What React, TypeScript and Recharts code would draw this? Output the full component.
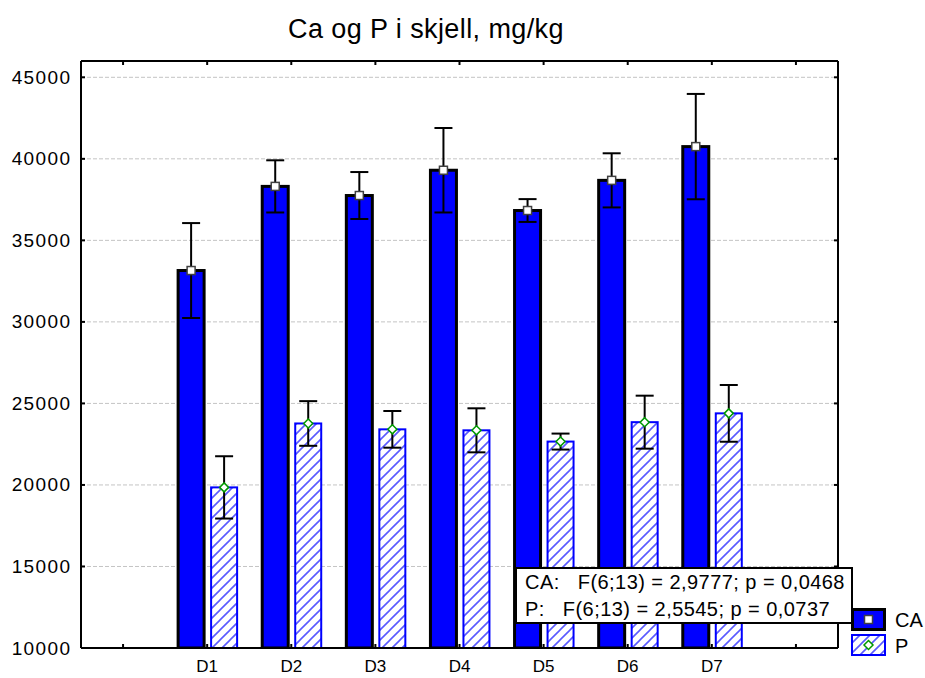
import React from "react";
import {
  BarChart,
  Bar,
  XAxis,
  YAxis,
  CartesianGrid,
  ErrorBar,
  Legend,
} from "recharts";

// group means and error half-widths, blank slots pad both ends of the axis
const categories = ["", "D1", "D2", "D3", "D4", "D5", "D6", "D7", ""];
const caMean = [null, 33150, 38310, 37750, 39300, 36830, 38680, 40750, null];
const caErr = [null, 2910, 1600, 1440, 2590, 700, 1660, 3230, null];
const pMean = [null, 19850, 23770, 23410, 23350, 22660, 23850, 24390, null];
const pErr = [null, 1910, 1370, 1125, 1350, 490, 1625, 1740, null];

const yTicks = [10000, 15000, 20000, 25000, 30000, 35000, 40000, 45000];
const seriesNames = ["CA", "P"];
const statLines = [
  "CA:   F(6;13) = 2,9777; p = 0,0468",
  "P:   F(6;13) = 2,5545; p = 0,0737",
];
const title = "Ca og P i skjell, mg/kg";

const data = categories.map((name, i) => ({
  name,
  ca: caMean[i],
  caErr: caErr[i],
  p: pMean[i],
  pErr: pErr[i],
}));

const FONT = "'Liberation Sans', Arial, sans-serif";
const BLUE = "#0000ff";

const CaShape = (props: any) => {
  if (props.payload?.ca == null) return <g />;
  const { x, y, width, height } = props;
  return (
    <rect x={x} y={y} width={width} height={height} fill={BLUE} stroke="#000" strokeWidth={3} />
  );
};

const PShape = (props: any) => {
  if (props.payload?.p == null) return <g />;
  const { x, y, width, height } = props;
  return (
    <rect x={x} y={y} width={width} height={height} fill="url(#hatch)" stroke={BLUE} strokeWidth={2} />
  );
};

const CaMarker = (props: any) => {
  const { x, y, width, value } = props;
  if (value == null) return null;
  const cx = x + width / 2;
  return <rect x={cx - 4} y={y - 4} width={8} height={8} fill="#fff" stroke="#404040" strokeWidth={1.5} />;
};

const PMarker = (props: any) => {
  const { x, y, width, value } = props;
  if (value == null) return null;
  const cx = x + width / 2;
  return (
    <polygon
      points={`${cx},${y - 4.5} ${cx + 4.5},${y} ${cx},${y + 4.5} ${cx - 4.5},${y}`}
      fill="#fff"
      stroke="#009900"
      strokeWidth={1.5}
    />
  );
};

const YTick = (props: any) => {
  const { x, y, payload } = props;
  return (
    <g>
      <line x1={x + 11} x2={x + 15} y1={y} y2={y} stroke="#000" strokeWidth={2} />
      <text
        x={x + 1.5}
        y={y + 6.5}
        textAnchor="end"
        fontSize={19}
        letterSpacing={1.4}
        fontFamily={FONT}
        fill="#000"
      >
        {payload.value}
      </text>
    </g>
  );
};

const XTick = (props: any) => {
  const { x, y, payload } = props;
  return (
    <g>
      <line x1={x} x2={x} y1={y} y2={y - 4} stroke="#000" strokeWidth={2} />
      <text x={x} y={y + 24} textAnchor="middle" fontSize={17} fontFamily={FONT} fill="#000">
        {payload.value}
      </text>
    </g>
  );
};

const RightTick = (props: any) => (
  <line x1={props.x - 4} x2={props.x} y1={props.y} y2={props.y} stroke="#000" strokeWidth={2} />
);

const TopTick = (props: any) => (
  <line x1={props.x} x2={props.x} y1={props.y} y2={props.y + 4} stroke="#000" strokeWidth={2} />
);

const LegendContent = () => (
  <div style={{ fontFamily: FONT, fontSize: 20 }}>
    {seriesNames.map((name, i) => (
      <div key={name} style={{ display: "flex", alignItems: "center", height: 26 }}>
        <svg width={36} height={24}>
          <defs>
            <pattern id={`lg-hatch-${i}`} patternUnits="userSpaceOnUse" width={10} height={10}>
              <rect width={10} height={10} fill="#fff" />
              <path d="M-1,1 l2,-2 M0,10 l10,-10 M9,11 l2,-2" stroke="#5a5aff" strokeWidth={1.6} />
            </pattern>
          </defs>
          {i === 0 ? (
            <>
              <rect x={1.5} y={1.5} width={32} height={20} fill={BLUE} stroke="#000" strokeWidth={3} />
              <rect x={13.5} y={7.5} width={8} height={8} fill="#fff" stroke="#404040" strokeWidth={1.5} />
            </>
          ) : (
            <>
              <rect x={1} y={1} width={33} height={20} fill={`url(#lg-hatch-${i})`} stroke={BLUE} strokeWidth={2} />
              <polygon points="17.5,6.5 22,11 17.5,15.5 13,11" fill="#fff" stroke="#009900" strokeWidth={1.5} />
            </>
          )}
        </svg>
        <span style={{ marginLeft: 8 }}>{name}</span>
      </div>
    ))}
  </div>
);

export default function App() {
  return (
    <div
      style={{
        position: "absolute",
        left: 0,
        top: 0,
        width: 925,
        height: 678,
        background: "#fff",
        fontFamily: FONT,
      }}
    >
      <div
        style={{
          position: "absolute",
          left: 0,
          width: 852,
          top: 14,
          textAlign: "center",
          fontSize: 27,
          letterSpacing: 0.4,
          color: "#000",
        }}
      >
        {title}
      </div>
      <BarChart
        width={925}
        height={678}
        data={data}
        margin={{ top: 60, right: 86, bottom: 0, left: 0 }}
        barSize={26}
        barGap={7}
      >
        <defs>
          <pattern id="hatch" patternUnits="userSpaceOnUse" width={10} height={10}>
            <rect width={10} height={10} fill="#fff" />
            <path d="M-1,1 l2,-2 M0,10 l10,-10 M9,11 l2,-2" stroke="#5a5aff" strokeWidth={1.6} />
          </pattern>
        </defs>
        <CartesianGrid vertical={false} stroke="#c4c4c4" strokeDasharray="4 2" />
        <XAxis
          dataKey="name"
          height={30}
          interval={0}
          tickSize={0}
          tickMargin={0}
          tick={<XTick />}
          axisLine={{ stroke: "#000", strokeWidth: 2 }}
        />
        <XAxis
          xAxisId="top"
          dataKey="name"
          orientation="top"
          height={1}
          interval={0}
          tickSize={0}
          tickMargin={0}
          tick={<TopTick />}
          axisLine={{ stroke: "#000", strokeWidth: 2 }}
        />
        <YAxis
          width={81}
          domain={[10000, 46000]}
          ticks={yTicks}
          interval={0}
          allowDataOverflow
          tickSize={0}
          tickMargin={11}
          tick={<YTick />}
          axisLine={{ stroke: "#000", strokeWidth: 2 }}
        />
        <YAxis
          yAxisId="right"
          orientation="right"
          width={1}
          domain={[10000, 46000]}
          ticks={yTicks}
          interval={0}
          allowDataOverflow
          tickSize={0}
          tickMargin={0}
          tick={<RightTick />}
          axisLine={{ stroke: "#000", strokeWidth: 2 }}
        />
        <Bar dataKey="ca" name="CA" shape={<CaShape />} label={<CaMarker />} isAnimationActive={false}>
          <ErrorBar dataKey="caErr" width={9} stroke="#000" strokeWidth={2} />
        </Bar>
        <Bar dataKey="p" name="P" shape={<PShape />} label={<PMarker />} isAnimationActive={false}>
          <ErrorBar dataKey="pErr" width={9} stroke="#000" strokeWidth={2} />
        </Bar>
        <Legend
          layout="vertical"
          align="center"
          verticalAlign="middle"
          content={<LegendContent />}
          wrapperStyle={{ position: "absolute", left: 851, top: 607, width: 74 }}
        />
      </BarChart>
      <div
        style={{
          position: "absolute",
          left: 515,
          top: 567,
          width: 338,
          height: 57,
          boxSizing: "border-box",
          border: "2px solid #000",
          background: "#fff",
          paddingLeft: 8,
          fontSize: 20,
          letterSpacing: 0.45,
          lineHeight: "27px",
          whiteSpace: "pre",
          color: "#000",
        }}
      >
        {statLines.map((s) => (
          <div key={s}>{s}</div>
        ))}
      </div>
    </div>
  );
}
